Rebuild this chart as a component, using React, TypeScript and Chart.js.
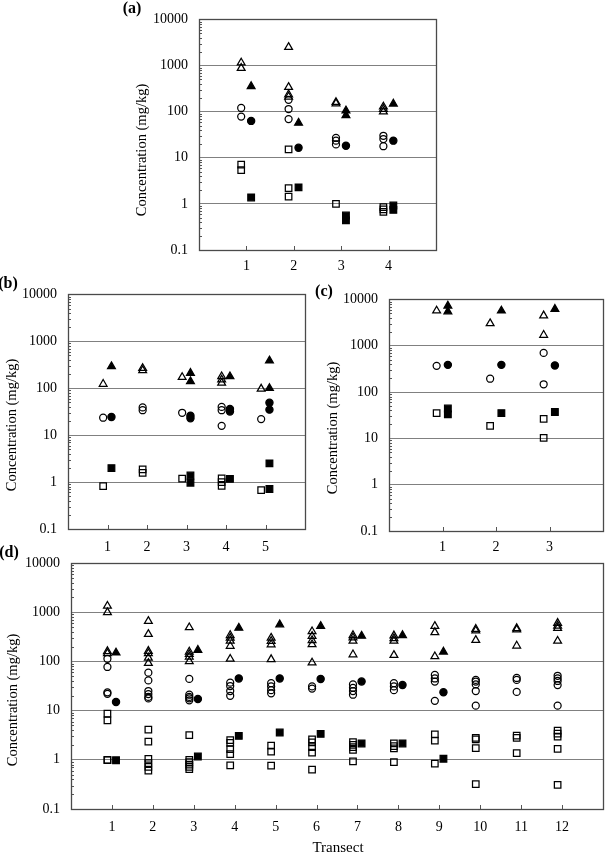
import React, { useEffect, useRef } from 'react';
import { Chart, registerables } from 'chart.js';

Chart.register(...registerables);

type Pt = [number, number]; // [transect, concentration mg/kg]

// ---------------- Panel (a) ----------------
const A_TRANSECTS = ['1', '2', '3', '4'];
const A_OPEN_TRI: Pt[] = [[1, 1150], [1, 880], [2, 2500], [2, 340], [2, 235], [2, 210], [3, 160], [3, 150], [4, 128], [4, 114], [4, 100]];
const A_FILL_TRI: Pt[] = [[1, 355], [2, 57], [3, 105], [3, 83], [4, 148]];
const A_OPEN_CIR: Pt[] = [[1, 120], [1, 78], [2, 180], [2, 114], [2, 69], [3, 27], [3, 23.5], [3, 19.5], [4, 30], [4, 25.5], [4, 17.8]];
const A_FILL_CIR: Pt[] = [[1, 63], [2, 16.5], [3, 18.3], [4, 23.5]];
const A_OPEN_SQ: Pt[] = [[1, 7.1], [1, 5.4], [2, 15.2], [2, 2.2], [2, 1.43], [3, 1.0], [4, 0.85], [4, 0.76], [4, 0.67]];
const A_FILL_SQ: Pt[] = [[1, 1.38], [2, 2.28], [3, 0.56], [3, 0.44], [4, 0.92], [4, 0.74]];

// ---------------- Panel (b) ----------------
const B_TRANSECTS = ['1', '2', '3', '4', '5'];
const B_OPEN_TRI: Pt[] = [[1, 123], [2, 267], [2, 240], [3, 172], [4, 178], [4, 152], [4, 130], [5, 97]];
const B_FILL_TRI: Pt[] = [[1, 292], [3, 210], [3, 140], [4, 178], [5, 387], [5, 100]];
const B_OPEN_CIR: Pt[] = [[1, 23.5], [2, 39], [2, 34], [3, 30], [4, 40], [4, 34], [4, 15.8], [5, 22]];
const B_FILL_CIR: Pt[] = [[1, 24.5], [3, 26], [3, 23], [4, 36], [4, 32], [5, 49], [5, 35]];
const B_OPEN_SQ: Pt[] = [[1, 0.82], [2, 1.87], [2, 1.57], [3, 1.18], [4, 1.2], [4, 1.0], [4, 0.83], [5, 0.67]];
const B_FILL_SQ: Pt[] = [[1, 1.98], [3, 1.38], [3, 0.97], [4, 1.17], [5, 2.5], [5, 0.71]];

// ---------------- Panel (c) ----------------
const C_TRANSECTS = ['1', '2', '3'];
const C_OPEN_TRI: Pt[] = [[1, 5700], [2, 3030], [3, 4470], [3, 1700]];
const C_FILL_TRI: Pt[] = [[1, 7250], [1, 5450], [2, 5700], [3, 6170]];
const C_OPEN_CIR: Pt[] = [[1, 368], [2, 194], [3, 700], [3, 147]];
const C_FILL_CIR: Pt[] = [[1, 386], [2, 386], [3, 375]];
const C_OPEN_SQ: Pt[] = [[1, 35], [2, 18.6], [3, 26.5], [3, 10.2]];
const C_FILL_SQ: Pt[] = [[1, 44], [1, 33], [2, 35], [3, 37]];

// ---------------- Panel (d) ----------------
const D_TRANSECTS = ['1', '2', '3', '4', '5', '6', '7', '8', '9', '10', '11', '12'];
const D_OPEN_TRI: Pt[] = [
  [1, 1340], [1, 990], [1, 160], [1, 145],
  [2, 657], [2, 358], [2, 162], [2, 145], [2, 118], [2, 92],
  [3, 490], [3, 157], [3, 140], [3, 124], [3, 100],
  [4, 340], [4, 300], [4, 262], [4, 205], [4, 112],
  [5, 300], [5, 258], [5, 220], [5, 110],
  [6, 406], [6, 326], [6, 267], [6, 221], [6, 94],
  [7, 340], [7, 305], [7, 262], [7, 138],
  [8, 335], [8, 293], [8, 262], [8, 134],
  [9, 520], [9, 390], [9, 126],
  [10, 455], [10, 420], [10, 270],
  [11, 470], [11, 440], [11, 208],
  [12, 600], [12, 530], [12, 475], [12, 260],
];
const D_FILL_TRI: Pt[] = [[1, 150], [3, 170], [4, 480], [5, 560], [6, 520], [7, 330], [8, 340], [9, 157]];
const D_OPEN_CIR: Pt[] = [
  [1, 113], [1, 77], [1, 23.5], [1, 22],
  [2, 59], [2, 41], [2, 25], [2, 21.7], [2, 19], [2, 17.7],
  [3, 44], [3, 21], [3, 19], [3, 17.8], [3, 16.2],
  [4, 37], [4, 31.6], [4, 25], [4, 20],
  [5, 36], [5, 31], [5, 26], [5, 22.5],
  [6, 31], [6, 28],
  [7, 34], [7, 29], [7, 25], [7, 21],
  [8, 36], [8, 31], [8, 26],
  [9, 53], [9, 45], [9, 39], [9, 15.8],
  [10, 42], [10, 39], [10, 34], [10, 25], [10, 12.6],
  [11, 46], [11, 42], [11, 24],
  [12, 51], [12, 45], [12, 40], [12, 33], [12, 12.6],
];
const D_FILL_CIR: Pt[] = [[1, 15], [3, 17.2], [4, 45], [5, 45], [6, 44], [7, 39], [8, 33], [9, 23.5]];
const D_OPEN_SQ: Pt[] = [
  [1, 8.7], [1, 6.3], [1, 1.0], [1, 0.98],
  [2, 4.1], [2, 2.35], [2, 1.05], [2, 0.86], [2, 0.72], [2, 0.6],
  [3, 3.16], [3, 1.0], [3, 0.9], [3, 0.8], [3, 0.72], [3, 0.65],
  [4, 2.5], [4, 2.2], [4, 1.64], [4, 1.3], [4, 0.77],
  [5, 1.95], [5, 1.47], [5, 0.76],
  [6, 2.6], [6, 2.25], [6, 1.8], [6, 1.4], [6, 0.63],
  [7, 2.3], [7, 2.0], [7, 1.8], [7, 1.6], [7, 0.93],
  [8, 2.15], [8, 1.9], [8, 1.7], [8, 0.9],
  [9, 3.3], [9, 2.45], [9, 0.84],
  [10, 2.8], [10, 2.6], [10, 1.73], [10, 0.32],
  [11, 3.1], [11, 2.8], [11, 1.36],
  [12, 3.9], [12, 3.4], [12, 2.95], [12, 1.66], [12, 0.31],
];
const D_FILL_SQ: Pt[] = [[1, 0.98], [3, 1.17], [4, 3.06], [5, 3.58], [6, 3.36], [7, 2.15], [8, 2.15], [9, 1.05]];

// ---------------- Axis text ----------------
const Y_TICK_LABELS = ['0.1', '1', '10', '100', '1000', '10000'];
const Y_TITLE = 'Concentration (mg/kg)';
const X_TITLE = 'Transect';

const FONT = '"Liberation Serif", "Times New Roman", serif';
const OPEN_OFFSET = -0.11;
const FILL_OFFSET = 0.1;

// log-axis tick positions (decades labelled, the rest are minor marks)
const Y_TICK_VALUES: number[] = (() => {
  const out: number[] = [];
  for (let k = -1; k <= 3; k++) {
    for (let m = 1; m <= 9; m++) out.push(parseFloat((m * Math.pow(10, k)).toPrecision(3)));
  }
  out.push(10000);
  return out;
})();
const decadeIndex = (v: number) => {
  const l = Math.log10(v);
  return Math.abs(l - Math.round(l)) < 1e-6 ? Math.round(l) + 1 : -1;
};

type Rect = { l: number; t: number; r: number; b: number };
interface Series { openTri: Pt[]; fillTri: Pt[]; openCir: Pt[]; fillCir: Pt[]; openSq: Pt[]; fillSq: Pt[] }
interface PanelCfg {
  id: string;
  letter: string;
  letterPos: [number, number];
  canvas: Rect;
  plot: Rect;
  xMax: number;
  xLabels: string[];
  xLabelPad: number;
  yTitlePos: [number, number];
  xTitlePos?: [number, number];
  series: Series;
}

const PANELS: PanelCfg[] = [
  {
    id: 'a', letter: '(a)', letterPos: [132, 8],
    canvas: { l: 120, t: 0, r: 450, b: 285 }, plot: { l: 199, t: 10, r: 436, b: 250 },
    xMax: 5, xLabels: A_TRANSECTS, xLabelPad: 8, yTitlePos: [142, 150],
    series: { openTri: A_OPEN_TRI, fillTri: A_FILL_TRI, openCir: A_OPEN_CIR, fillCir: A_FILL_CIR, openSq: A_OPEN_SQ, fillSq: A_FILL_SQ },
  },
  {
    id: 'b', letter: '(b)', letterPos: [8, 283],
    canvas: { l: 0, t: 275, r: 312, b: 565 }, plot: { l: 68, t: 290, r: 305, b: 529 },
    xMax: 6, xLabels: B_TRANSECTS, xLabelPad: 10, yTitlePos: [12, 425],
    series: { openTri: B_OPEN_TRI, fillTri: B_FILL_TRI, openCir: B_OPEN_CIR, fillCir: B_FILL_CIR, openSq: B_OPEN_SQ, fillSq: B_FILL_SQ },
  },
  {
    id: 'c', letter: '(c)', letterPos: [324, 291],
    canvas: { l: 315, t: 280, r: 609, b: 565 }, plot: { l: 389, t: 293, r: 607, b: 531 },
    xMax: 4, xLabels: C_TRANSECTS, xLabelPad: 8, yTitlePos: [333, 428],
    series: { openTri: C_OPEN_TRI, fillTri: C_FILL_TRI, openCir: C_OPEN_CIR, fillCir: C_FILL_CIR, openSq: C_OPEN_SQ, fillSq: C_FILL_SQ },
  },
  {
    id: 'd', letter: '(d)', letterPos: [9, 552],
    canvas: { l: 0, t: 540, r: 609, b: 858 }, plot: { l: 71, t: 563, r: 606, b: 809 },
    xMax: 13, xLabels: D_TRANSECTS, xLabelPad: 10, yTitlePos: [13, 700], xTitlePos: [338, 848],
    series: { openTri: D_OPEN_TRI, fillTri: D_FILL_TRI, openCir: D_OPEN_CIR, fillCir: D_FILL_CIR, openSq: D_OPEN_SQ, fillSq: D_FILL_SQ },
  },
];

function makeDataset(pts: Pt[], style: string, filled: boolean, radius: number) {
  const off = filled ? FILL_OFFSET : OPEN_OFFSET;
  return {
    data: pts.map(([t, v]) => ({ x: t + off, y: v })),
    pointStyle: style,
    pointRadius: radius,
    pointHoverRadius: radius,
    pointBackgroundColor: filled ? '#000000' : 'rgba(0,0,0,0)',
    pointBorderColor: '#000000',
    pointBorderWidth: 1.25,
    showLine: false,
  };
}

function buildConfig(cfg: PanelCfg): any {
  const { canvas, plot, series } = cfg;
  const s = series;
  const datasets = [
    makeDataset(s.openTri, 'triangle', false, 4.5),
    makeDataset(s.openCir, 'circle', false, 3.5),
    makeDataset(s.openSq, 'rect', false, 4.6),
    makeDataset(s.fillTri, 'triangle', true, 4.5),
    makeDataset(s.fillCir, 'circle', true, 3.6),
    makeDataset(s.fillSq, 'rect', true, 4.7),
  ];

  const framePlugin = {
    id: 'frame' + cfg.id,
    afterDraw(chart: any) {
      const { ctx, chartArea: a } = chart;
      const ys = chart.scales.y;
      const xs = chart.scales.x;
      ctx.save();
      // minor ticks inside the plot
      ctx.strokeStyle = '#555555';
      ctx.lineWidth = 1;
      ctx.beginPath();
      for (const v of Y_TICK_VALUES) {
        if (decadeIndex(v) >= 0) continue;
        const y = Math.round(ys.getPixelForValue(v)) + 0.5;
        ctx.moveTo(a.left, y);
        ctx.lineTo(a.left + 3, y);
      }
      for (let i = 1; i <= cfg.xLabels.length; i++) {
        const x = Math.round(xs.getPixelForValue(i)) + 0.5;
        ctx.moveTo(x, a.bottom);
        ctx.lineTo(x, a.bottom - 4);
      }
      ctx.stroke();
      // frame
      ctx.strokeStyle = '#4a4a4a';
      ctx.lineWidth = 1.3;
      ctx.strokeRect(Math.round(a.left) + 0.5, Math.round(a.top) + 0.5, Math.round(a.right - a.left), Math.round(a.bottom - a.top));
      // titles
      ctx.fillStyle = '#000000';
      ctx.textAlign = 'center';
      ctx.textBaseline = 'middle';
      ctx.font = `14.5px ${FONT}`;
      ctx.save();
      ctx.translate(cfg.yTitlePos[0] - canvas.l, cfg.yTitlePos[1] - canvas.t);
      ctx.rotate(-Math.PI / 2);
      ctx.fillText(Y_TITLE, 0, 0);
      ctx.restore();
      if (cfg.xTitlePos) {
        ctx.font = `15px ${FONT}`;
        ctx.fillText(X_TITLE, cfg.xTitlePos[0] - canvas.l, cfg.xTitlePos[1] - canvas.t);
      }
      ctx.restore();
    },
  };

  return {
    type: 'scatter',
    data: { datasets },
    options: {
      responsive: false,
      animation: false,
      events: [],
      layout: { padding: { left: 0, top: plot.t - canvas.t, right: canvas.r - plot.r, bottom: 0 } },
      plugins: { legend: { display: false }, tooltip: { enabled: false } },
      scales: {
        x: {
          type: 'linear',
          min: 0,
          max: cfg.xMax,
          afterBuildTicks: (sc: any) => { sc.ticks = cfg.xLabels.map((_, i) => ({ value: i + 1 })); },
          afterFit: (sc: any) => { sc.height = canvas.b - plot.b; },
          ticks: {
            callback: (_v: any, i: number) => cfg.xLabels[i] ?? '',
            font: { family: FONT, size: 14 },
            color: '#000000',
            padding: cfg.xLabelPad,
            autoSkip: false,
            maxRotation: 0,
          },
          grid: { display: false, drawTicks: false },
          border: { display: false },
        },
        y: {
          type: 'logarithmic',
          min: 0.1,
          max: 10000,
          afterBuildTicks: (sc: any) => { sc.ticks = Y_TICK_VALUES.map((v) => ({ value: v })); },
          afterFit: (sc: any) => { sc.width = plot.l - canvas.l; },
          ticks: {
            callback: (v: any) => { const d = decadeIndex(Number(v)); return d >= 0 ? Y_TICK_LABELS[d] : ''; },
            font: { family: FONT, size: 14 },
            color: '#000000',
            padding: 11,
            autoSkip: false,
          },
          grid: {
            drawTicks: false,
            lineWidth: 1,
            color: (c: any) => {
              const v = c.tick ? c.tick.value : 0;
              const d = decadeIndex(v);
              return d > 0 && d < 5 ? '#808080' : 'rgba(0,0,0,0)';
            },
          },
          border: { display: false },
        },
      },
    },
    plugins: [framePlugin],
  };
}

function Panel({ cfg }: { cfg: PanelCfg }) {
  const ref = useRef<HTMLCanvasElement>(null);
  useEffect(() => {
    const chart = new Chart(ref.current as HTMLCanvasElement, buildConfig(cfg));
    return () => chart.destroy();
  }, [cfg]);
  const w = cfg.canvas.r - cfg.canvas.l;
  const h = cfg.canvas.b - cfg.canvas.t;
  return (
    <canvas
      ref={ref}
      width={w}
      height={h}
      style={{ position: 'absolute', left: cfg.canvas.l, top: cfg.canvas.t, width: w, height: h }}
    />
  );
}

export default function App() {
  return (
    <div style={{ position: 'absolute', left: 0, top: 0, width: 609, height: 858, background: '#ffffff', overflow: 'hidden' }}>
      {PANELS.map((p) => (
        <Panel key={p.id} cfg={p} />
      ))}
      {PANELS.map((p) => (
        <span
          key={'l' + p.id}
          style={{
            position: 'absolute',
            left: p.letterPos[0],
            top: p.letterPos[1],
            transform: 'translate(-50%, -50%)',
            font: `bold 16px ${FONT}`,
            color: '#000',
            lineHeight: '16px',
            whiteSpace: 'nowrap',
          }}
        >
          {p.letter}
        </span>
      ))}
    </div>
  );
}
